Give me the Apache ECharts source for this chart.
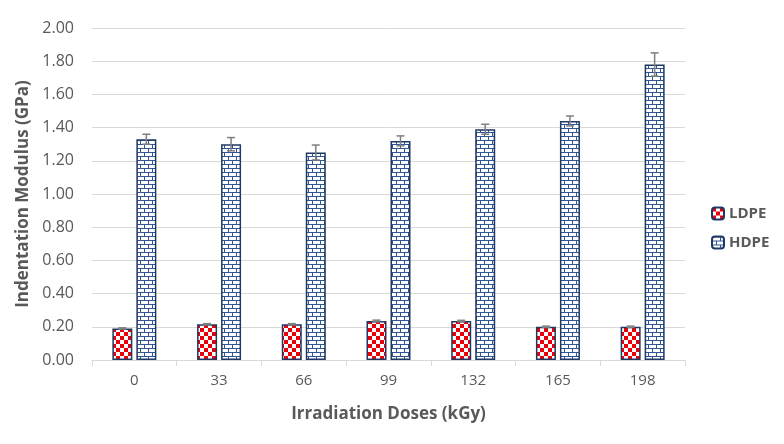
<!DOCTYPE html>
<html><head><meta charset="utf-8">
<script src="https://cdn.jsdelivr.net/npm/echarts@6/dist/echarts.min.js"></script>
<style>html,body{margin:0;padding:0;background:#fff}#c{width:784px;height:444px}</style>
</head><body><div id="c"></div>
<script>
const categories = ['0','33','66','99','132','165','198'];
const ldpeValues = [0.19,0.215,0.215,0.235,0.235,0.20,0.20];
const ldpeErrors = [0.004,0.004,0.004,0.005,0.004,0.004,0.004];
const hdpeValues = [1.33,1.30,1.25,1.32,1.39,1.44,1.78];
const hdpeErrors = [0.03,0.04,0.045,0.03,0.03,0.03,0.07];
const yTicks = {min:0,max:2,interval:0.2};

function checker(){
  const c=document.createElement('canvas');c.width=8;c.height=8;
  const g=c.getContext('2d');g.fillStyle='#fff';g.fillRect(0,0,8,8);
  g.fillStyle='#e8000b';g.fillRect(0,0,4,4);g.fillRect(4,4,4,4);return c;
}
function brick(){
  const c=document.createElement('canvas');c.width=8;c.height=8;
  const g=c.getContext('2d');g.fillStyle='#fff';g.fillRect(0,0,8,8);
  g.fillStyle='#2f5597';g.fillRect(0,0,8,1);g.fillRect(0,4,8,1);
  g.fillRect(0,0,1,4);g.fillRect(4,4,1,4);return c;
}
const font='"Open Sans", "Liberation Sans", sans-serif';
const chart=echarts.init(document.getElementById('c'));
function errSeries(vals,errs,offset){
  return {type:'custom',silent:true,z:5,
    data:vals.map((v,i)=>[i,v,errs[i]]),
    renderItem:(p,api)=>{
      const i=api.value(0),v=api.value(1),e=api.value(2);
      const hi=api.coord([i,v+e]),lo=api.coord([i,v-e]);
      const x=hi[0]+offset;
      const st={stroke:'#7f7f7f',lineWidth:1.5};
      return {type:'group',children:[
        {type:'line',shape:{x1:x,y1:hi[1],x2:x,y2:lo[1]},style:st},
        {type:'line',shape:{x1:x-4,y1:hi[1],x2:x+4,y2:hi[1]},style:st},
        {type:'line',shape:{x1:x-4,y1:lo[1],x2:x+4,y2:lo[1]},style:st}]};
    }};
}
chart.setOption({
  animation:false,
  grid:{left:92,right:99,top:28,bottom:84},
  legend:{orient:'vertical',left:706,top:201,itemGap:14,itemWidth:12,itemHeight:12,
    textStyle:{fontFamily:font,fontSize:15,fontWeight:'bold',color:'#595959'},
    data:['LDPE','HDPE']},
  xAxis:{type:'category',data:categories,
    name:'Irradiation Doses (kGy)',nameLocation:'middle',nameGap:46,
    nameTextStyle:{fontFamily:font,fontSize:17,fontWeight:'bold',color:'#595959'},
    axisLine:{lineStyle:{color:'#d9d9d9',width:1}},
    axisTick:{show:true,length:6,lineStyle:{color:'#d9d9d9'}},
    axisLabel:{fontFamily:font,fontSize:15,color:'#595959',margin:13}},
  yAxis:{type:'value',min:yTicks.min,max:yTicks.max,interval:yTicks.interval,
    name:'Indentation Modulus (GPa)',nameLocation:'middle',nameGap:60,
    nameTextStyle:{fontFamily:font,fontSize:17,fontWeight:'bold',color:'#595959'},
    axisLine:{show:false},axisTick:{show:false},
    splitLine:{lineStyle:{color:'#d9d9d9'}},
    axisLabel:{fontFamily:font,fontSize:16,color:'#595959',margin:18,formatter:v=>v.toFixed(2)}},
  series:[
    {name:'LDPE',type:'bar',data:ldpeValues,barWidth:20,barGap:'20%',
      itemStyle:{color:{image:checker(),repeat:'repeat'},borderColor:'#1f3864',borderWidth:1.5}},
    {name:'HDPE',type:'bar',data:hdpeValues,barWidth:20,barGap:'20%',
      itemStyle:{color:{image:brick(),repeat:'repeat'},borderColor:'#1f3864',borderWidth:1.5}},
    errSeries(ldpeValues,ldpeErrors,-12),
    errSeries(hdpeValues,hdpeErrors,12)
  ]
});
</script></body></html>
